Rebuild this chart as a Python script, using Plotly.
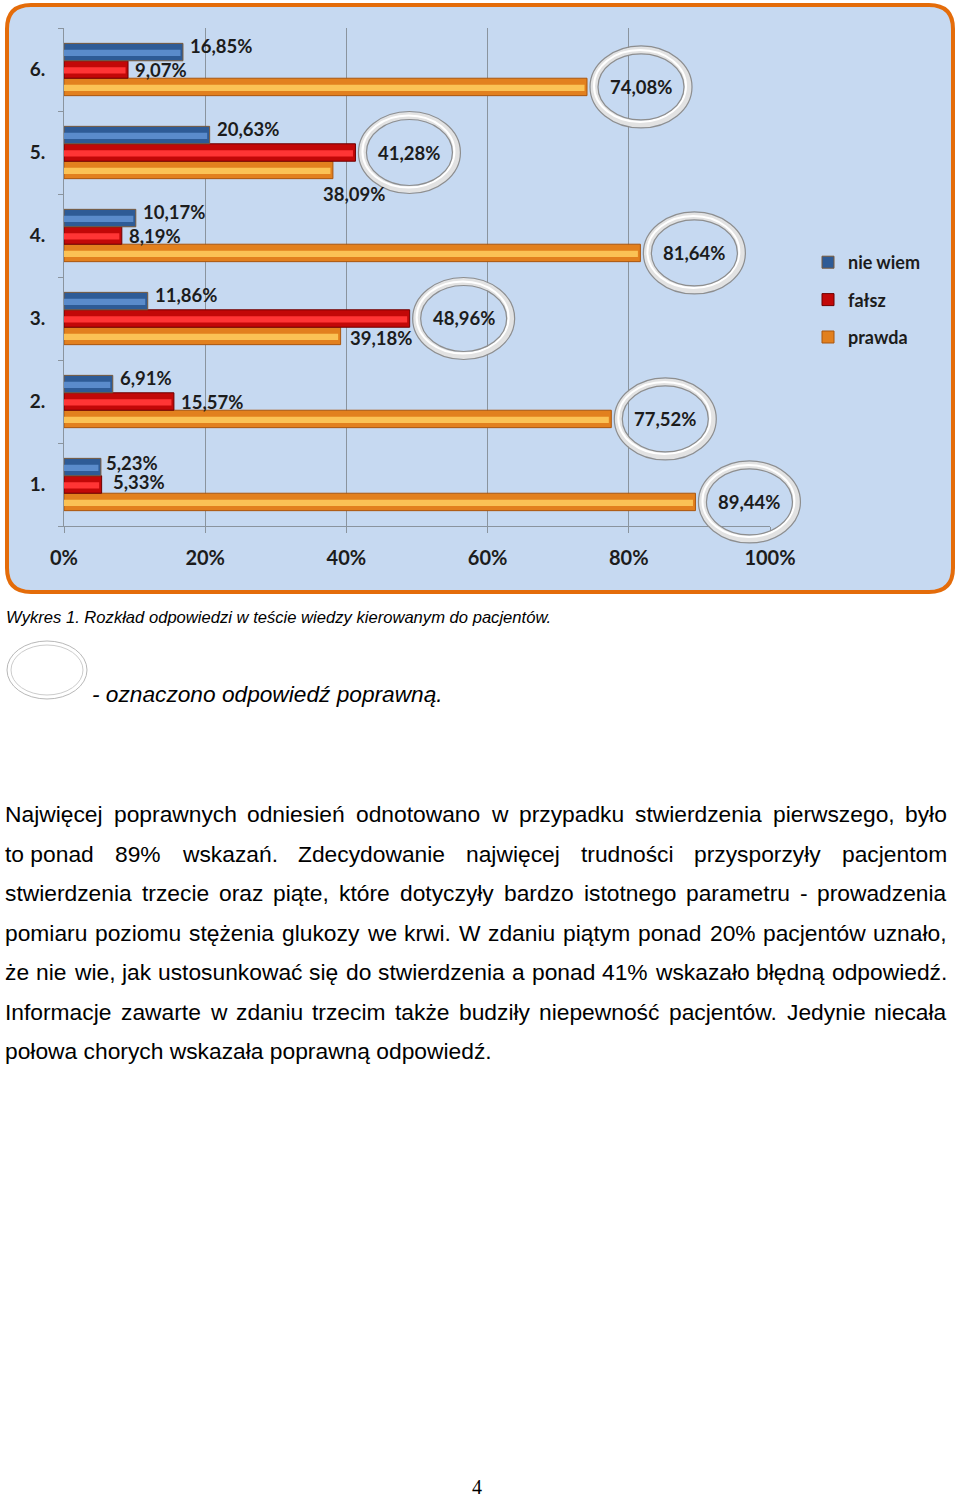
import plotly.graph_objects as go

# ---------------- data ----------------
categories = ["1.", "2.", "3.", "4.", "5.", "6."]
prawda = [89.44, 77.52, 39.18, 81.64, 38.09, 74.08]
falsz = [5.33, 15.57, 48.96, 8.19, 41.28, 9.07]
nie_wiem = [5.23, 6.91, 11.86, 10.17, 20.63, 16.85]
correct = ["prawda", "prawda", "fałsz", "prawda", "fałsz", "prawda"]
x_ticks = [0, 20, 40, 60, 80, 100]
x_tick_labels = ["0%", "20%", "40%", "60%", "80%", "100%"]

caption = "Wykres 1. Rozkład odpowiedzi w teście wiedzy kierowanym do pacjentów."
legend_note = "- oznaczono odpowiedź poprawną."
paragraph = [
    "Najwięcej poprawnych odniesień odnotowano w przypadku stwierdzenia pierwszego, było",
    "to\u00a0ponad 89% wskazań. Zdecydowanie najwięcej trudności przysporzyły pacjentom",
    "stwierdzenia trzecie oraz piąte, które dotyczyły bardzo istotnego parametru - prowadzenia",
    "pomiaru poziomu stężenia glukozy we krwi. W zdaniu piątym ponad 20% pacjentów uznało,",
    "że nie wie, jak ustosunkować się do stwierdzenia a ponad 41% wskazało błędną odpowiedź.",
    "Informacje zawarte w zdaniu trzecim także budziły niepewność pacjentów. Jedynie niecała",
    "połowa chorych wskazała poprawną odpowiedź.",
]
page_number = "4"

# ---------------- layout geometry (pixels) ----------------
FW, FH = 960, 1503
L, R, T, B = 64, 770, 28, 526
PW, PH = R - L, B - T
XR = [0, 100]
YR = [0.5, 6.5]


def px(x):
    return (x - L) / PW


def py(y):
    return (B - y) / PH


def data_to_pixel(xv, yv):
    return (L + (xv - XR[0]) / (XR[1] - XR[0]) * PW,
            B - (yv - YR[0]) / (YR[1] - YR[0]) * PH)


pos = list(range(1, len(categories) + 1))
BW = 0.21
series = [
    # name, values, body, highlight, outline, offset, legend rank
    ("prawda", prawda, "#E2801E", "#FBC255", "#A9560F", -1.5 * BW, 3),
    ("fałsz", falsz, "#C20808", "#FF3535", "#6E0000", -0.5 * BW, 2),
    ("nie wiem", nie_wiem, "#2E5B96", "#5A8BCB", "#7A5A3A", 0.5 * BW, 1),
]

LABEL_FONT = dict(family="Lato", size=18.5, color="#1c1c1c", weight="bold")

fig = go.Figure()
for name, vals, body, hl, outline, off, rank in series:
    fig.add_trace(go.Bar(
        y=pos, x=vals, orientation="h", name=name, width=BW, offset=off,
        marker=dict(color=body, line=dict(color=outline, width=1)),
        legendgroup=name, legendrank=rank, hoverinfo="x+name",
    ))
    fig.add_trace(go.Bar(
        y=pos, x=[v - 0.35 for v in vals], orientation="h", width=BW * 0.36,
        offset=off + BW * 0.27, marker=dict(color=hl, line=dict(width=0)),
        showlegend=False, hoverinfo="skip", legendgroup=name, legendrank=rank,
    ))

# ---------------- value labels ----------------
label_style = {
    "nie wiem": dict(xshift=7, yshift=6),
    "fałsz": dict(xshift=7, yshift=0),
    "prawda": dict(xshift=9, yshift=-2),
}
label_override = {
    ("5.", "prawda"): dict(xanchor="center", xshift=21, yshift=-24),
    ("1.", "fałsz"): dict(xanchor="left", xshift=11, yshift=3),
    ("1.", "nie wiem"): dict(xanchor="left", xshift=5, yshift=4),
}
CIRC_DX = 54   # pixels from bar end to ring centre
RX, RY = 47, 37

annotations = []
shapes = []


def fmt(v):
    return f"{v:.2f}".replace(".", ",") + "%"


def ellipse(cx, cy, rx, ry, color, width):
    return dict(type="circle", xref="paper", yref="paper",
                x0=px(cx - rx), x1=px(cx + rx), y0=py(cy + ry), y1=py(cy - ry),
                line=dict(color=color, width=width), fillcolor="rgba(0,0,0,0)",
                layer="above")


for name, vals, body, hl, outline, off, rank in series:
    for i, v in enumerate(vals):
        yc = pos[i] + off + BW / 2
        cat = categories[i]
        if correct[i] == name:
            bx, by = data_to_pixel(v, yc)
            cx, cy = bx + CIRC_DX, by
            shapes.append(ellipse(cx, cy, RX, RY, "#e2e2e2", 7))
            shapes.append(ellipse(cx - 1, cy - 1, RX - 1, RY - 1, "#ffffff", 2))
            shapes.append(ellipse(cx, cy, RX + 4, RY + 4, "#8e8e8e", 1.2))
            shapes.append(ellipse(cx, cy, RX - 4, RY - 4, "#8e8e8e", 1.2))
            annotations.append(dict(
                x=px(cx), y=py(cy), xref="paper", yref="paper", text=fmt(v),
                showarrow=False, xanchor="center", yanchor="middle",
                font=LABEL_FONT))
        else:
            st = dict(xanchor="left", **label_style[name])
            st.update(label_override.get((cat, name), {}))
            annotations.append(dict(
                x=v, y=yc, xref="x", yref="y", text=fmt(v), showarrow=False,
                yanchor="middle", font=LABEL_FONT, borderpad=0, borderwidth=0, **st))

# ---------------- chart frame ----------------
fx0, fx1, fy0, fy1, rr = 7, 953, 5, 592, 24


def P(x, y):
    return f"{px(x):.5f},{py(y):.5f}"


frame_path = (
    f"M{P(fx0 + rr, fy0)} L{P(fx1 - rr, fy0)} Q{P(fx1, fy0)} {P(fx1, fy0 + rr)} "
    f"L{P(fx1, fy1 - rr)} Q{P(fx1, fy1)} {P(fx1 - rr, fy1)} "
    f"L{P(fx0 + rr, fy1)} Q{P(fx0, fy1)} {P(fx0, fy1 - rr)} "
    f"L{P(fx0, fy0 + rr)} Q{P(fx0, fy0)} {P(fx0 + rr, fy0)} Z"
)
shapes.insert(0, dict(type="path", path=frame_path, xref="paper", yref="paper",
                      fillcolor="#C6D9F1", line=dict(color="#E46C0A", width=4),
                      layer="below"))

# ---------------- text below the chart ----------------
ARIAL_W = {
    " ": 278, "\u00a0": 278, ",": 278, ".": 278, "-": 333, "%": 889,
    "a": 556, "b": 556, "c": 500, "d": 556, "e": 556, "f": 278, "g": 556,
    "h": 556, "i": 222, "j": 222, "k": 500, "l": 222, "m": 833, "n": 556,
    "o": 556, "p": 556, "q": 556, "r": 333, "s": 500, "t": 278, "u": 556,
    "v": 500, "w": 722, "x": 500, "y": 500, "z": 500,
    "A": 667, "B": 667, "C": 722, "D": 722, "E": 667, "F": 611, "G": 778,
    "H": 722, "I": 278, "J": 500, "K": 667, "L": 556, "M": 833, "N": 722,
    "O": 778, "P": 667, "Q": 778, "R": 722, "S": 667, "T": 611, "U": 722,
    "V": 667, "W": 944, "X": 667, "Y": 667, "Z": 611,
    "ą": 556, "ć": 500, "ę": 556, "ł": 222, "ń": 556, "ó": 556, "ś": 500,
    "ź": 500, "ż": 500,
}


def text_width(s, size):
    return sum(ARIAL_W.get(ch, 556) for ch in s) / 1000 * size


BODY = dict(family="Liberation Sans", size=22.8, color="#000000")
TXT_L, TXT_R = 5, 947
LINE_Y0, LINE_STEP = 814, 39.5

for li, line in enumerate(paragraph):
    yy = py(LINE_Y0 + li * LINE_STEP)
    if li == len(paragraph) - 1:
        annotations.append(dict(x=px(TXT_L), y=yy, xref="paper", yref="paper",
                                text=line, showarrow=False, xanchor="left",
                                yanchor="middle", font=BODY, borderpad=0, borderwidth=0))
        continue
    words = line.split(" ")
    widths = [text_width(w, BODY["size"]) for w in words]
    gap = (TXT_R - TXT_L - sum(widths)) / (len(words) - 1)
    xcur = TXT_L
    for wi, (w, ww) in enumerate(zip(words, widths)):
        if wi == len(words) - 1:
            annotations.append(dict(x=px(TXT_R), y=yy, xref="paper", yref="paper",
                                    text=w, showarrow=False, xanchor="right",
                                    yanchor="middle", font=BODY, borderpad=0, borderwidth=0))
        else:
            annotations.append(dict(x=px(xcur), y=yy, xref="paper", yref="paper",
                                    text=w, showarrow=False, xanchor="left",
                                    yanchor="middle", font=BODY, borderpad=0, borderwidth=0))
        xcur += ww + gap

annotations.append(dict(x=px(6), y=py(617), xref="paper", yref="paper", text=caption,
                        showarrow=False, xanchor="left", yanchor="middle",
                        font=dict(family="Liberation Sans", size=16.6, color="#000000",
                                  style="italic"), borderpad=0, borderwidth=0))
annotations.append(dict(x=px(92), y=py(694), xref="paper", yref="paper", text=legend_note,
                        showarrow=False, xanchor="left", yanchor="middle",
                        font=dict(family="Liberation Sans", size=22.7, color="#000000",
                                  style="italic"), borderpad=0, borderwidth=0))
annotations.append(dict(x=px(477), y=py(1487), xref="paper", yref="paper", text=page_number,
                        showarrow=False, xanchor="center", yanchor="middle",
                        font=dict(family="Liberation Serif", size=20, color="#000000")))

# small ring icon next to the note
shapes.append(ellipse(47, 670, 40, 29, "#b8b8b8", 1))
shapes.append(ellipse(47, 670, 36, 25, "#cccccc", 1))

# ---------------- layout ----------------
GRID = "#8a949e"
fig.update_layout(
    width=FW, height=FH, autosize=False,
    margin=dict(l=L, r=FW - R, t=T, b=FH - B, pad=0),
    paper_bgcolor="#ffffff", plot_bgcolor="rgba(0,0,0,0)",
    barmode="overlay",
    showlegend=True,
    legend=dict(x=px(808), y=py(244), xanchor="left", yanchor="top",
                traceorder="grouped", tracegroupgap=11,
                bgcolor="rgba(0,0,0,0)", itemclick=False,
                font=dict(family="Lato", size=18, color="#1c1c1c", weight="bold")),
    xaxis=dict(range=XR, tickvals=x_ticks, ticktext=x_tick_labels,
               showgrid=True, gridcolor=GRID, gridwidth=1,
               showline=True, linecolor=GRID, linewidth=1,
               ticks="outside", ticklen=6, tickcolor=GRID, ticklabelstandoff=8,
               zeroline=False, fixedrange=True,
               tickfont=dict(family="Lato", size=20, color="#1c1c1c", weight="bold")),
    yaxis=dict(range=YR, tickvals=pos, ticktext=categories, ticks="",
               showgrid=False, showline=True, linecolor=GRID, linewidth=1,
               zeroline=False, fixedrange=True, ticklabelstandoff=14,
               minor=dict(tickmode="array", tickvals=[p - 0.5 for p in pos] + [pos[-1] + 0.5],
                          ticks="outside", ticklen=5, tickcolor=GRID, showgrid=False),
               tickfont=dict(family="Lato", size=19, color="#1c1c1c", weight="bold")),
    annotations=annotations,
    shapes=shapes,
)

fig.write_html("out.html", config={"displayModeBar": False},
               post_script="document.body.style.margin='0px';")
